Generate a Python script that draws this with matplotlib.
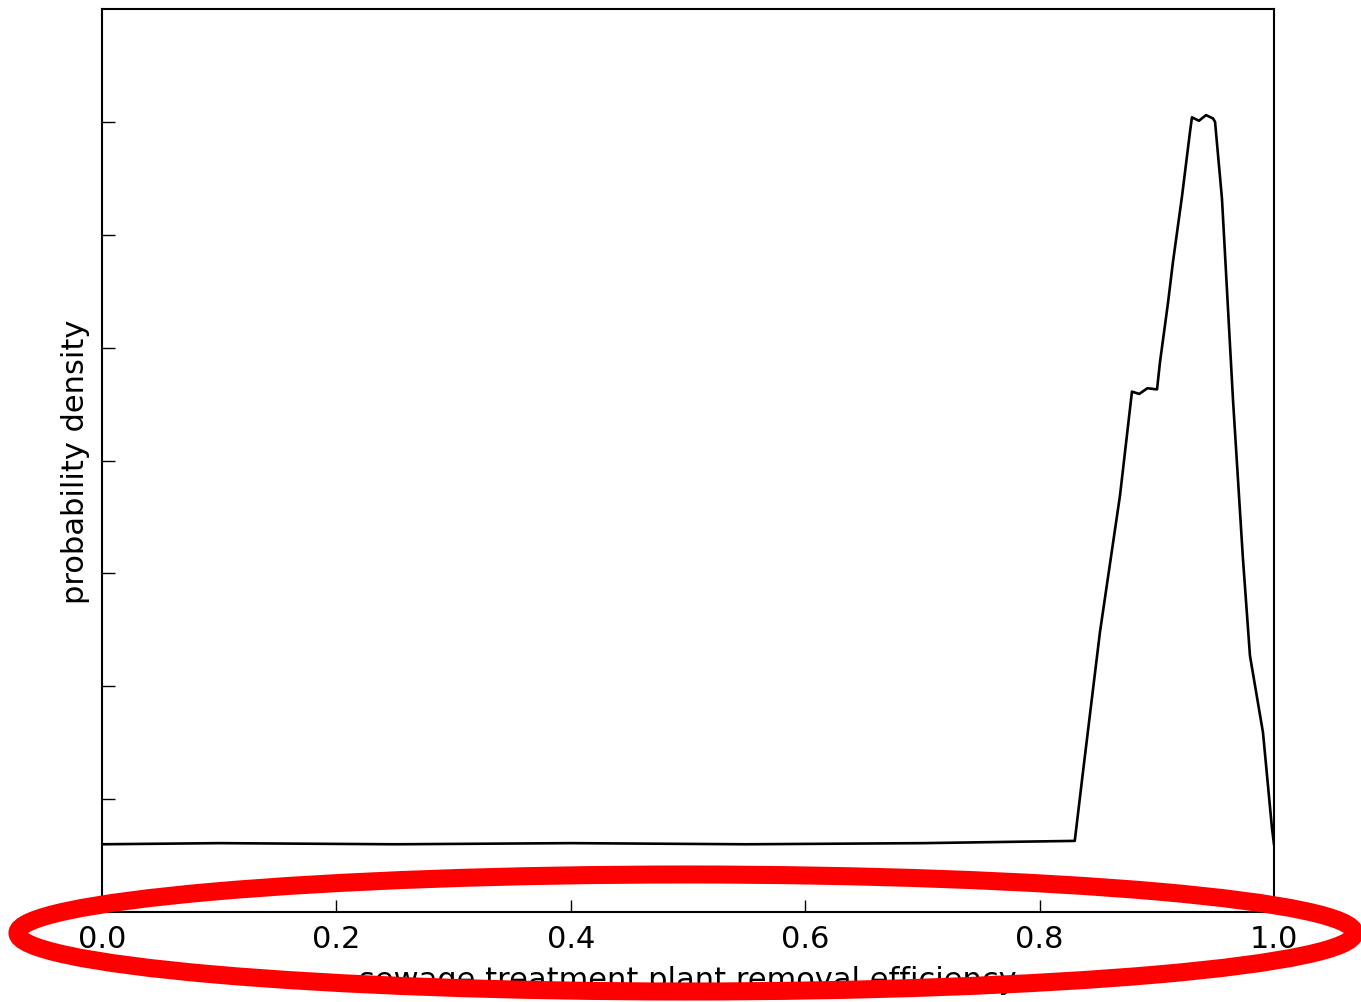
import matplotlib
matplotlib.use('Agg')
import matplotlib.pyplot as plt
from matplotlib.patches import Ellipse

plt.rcParams['font.family'] = ['DejaVu Sans']

# removal efficiency vs. probability density (piecewise read of the sampled curve)
efficiency = [0.000, 0.100, 0.250, 0.400, 0.550, 0.700, 0.830,
              0.837, 0.8515, 0.8686, 0.8788, 0.8850, 0.8920, 0.9002,
              0.9027, 0.9096, 0.9138, 0.9215, 0.9283, 0.9300,
              0.9360, 0.9420, 0.9480, 0.9497,
              0.9556, 0.9650, 0.9735, 0.9795, 0.9906, 0.9983, 1.000]
density = [0.60, 0.61, 0.60, 0.61, 0.60, 0.61, 0.63,
           1.24, 2.48, 3.69, 4.61, 4.59, 4.64, 4.63,
           4.87, 5.40, 5.76, 6.34, 6.91, 7.04,
           7.01, 7.06, 7.03, 7.00,
           6.32, 4.54, 3.13, 2.27, 1.59, 0.74, 0.60]

xticks = [0.0, 0.2, 0.4, 0.6, 0.8, 1.0]
xticklabels = ['0.0', '0.2', '0.4', '0.6', '0.8', '1.0']

fig = plt.figure(figsize=(13.61, 10.03), dpi=100)
ax = fig.add_axes([102 / 1361, 1 - 913 / 1003, 1172 / 1361, 903 / 1003])

ax.plot(efficiency, density, color='black', linewidth=1.9)
ax.set_xlim(0, 1)
ax.set_ylim(0, 8)

ax.set_xticks(xticks)
ax.set_xticklabels(xticklabels)
ax.set_yticks(range(1, 8))
ax.set_yticklabels([])
ax.tick_params(direction='in', length=9, width=1, labelsize=22, pad=9,
               top=False, right=False)
for s in ax.spines.values():
    s.set_linewidth(1.5)

ax.set_xlabel('sewage treatment plant removal efficiency', fontsize=22, labelpad=8)
ax.set_ylabel('probability density', fontsize=22, labelpad=0)

# red ring over the x axis labels
ring = Ellipse((686 / 1361, 1 - 934 / 1003), 1337 / 1361, 117 / 1003,
               transform=fig.transFigure, fill=False, edgecolor='#ff0000',
               linewidth=13, clip_on=False, zorder=10)
fig.patches.append(ring)

fig.savefig('out.png', dpi=100)
